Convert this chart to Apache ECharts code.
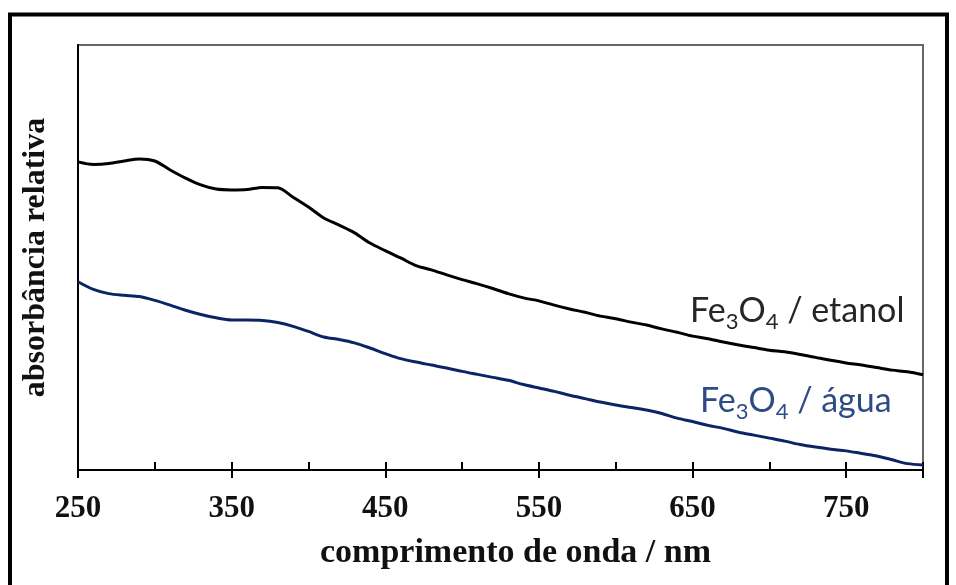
<!DOCTYPE html>
<html>
<head>
<meta charset="utf-8">
<script src="https://cdn.jsdelivr.net/npm/echarts@6/dist/echarts.min.js"></script>
<style>
  html, body { margin: 0; padding: 0; background: #fff; }
  #chart { width: 956px; height: 585px; }
</style>
</head>
<body>
<div id="chart"></div>
<script>
// wavelength grid (nm) and relative absorbance (0..1 of plot height)
const wavelengths = [
  250, 260, 270, 280, 290, 300, 310, 320, 330, 340,
  350, 360, 370, 380, 390, 400, 410, 420, 430, 440,
  450, 460, 470, 480, 490, 500, 510, 520, 530, 540,
  550, 560, 570, 580, 590, 600, 610, 620, 630, 640,
  650, 660, 670, 680, 690, 700, 710, 720, 730, 740,
  750, 760, 770, 780, 790, 800
];

const etanolValues = [
  0.725, 0.719, 0.721, 0.727, 0.732, 0.727, 0.706, 0.687, 0.671, 0.661,
  0.659, 0.660, 0.665, 0.664, 0.642, 0.619, 0.593, 0.576, 0.558, 0.534,
  0.516, 0.499, 0.481, 0.471, 0.459, 0.448, 0.438, 0.427, 0.415, 0.405,
  0.398, 0.388, 0.379, 0.371, 0.362, 0.356, 0.348, 0.341, 0.332, 0.324,
  0.315, 0.309, 0.301, 0.294, 0.288, 0.282, 0.278, 0.272, 0.265, 0.258,
  0.252, 0.247, 0.241, 0.235, 0.231, 0.224
];

const aguaValues = [
  0.443, 0.425, 0.415, 0.411, 0.408, 0.399, 0.388, 0.376, 0.366, 0.358,
  0.353, 0.353, 0.352, 0.347, 0.338, 0.326, 0.313, 0.307, 0.299, 0.287,
  0.274, 0.262, 0.254, 0.247, 0.240, 0.232, 0.225, 0.218, 0.211, 0.201,
  0.193, 0.185, 0.176, 0.168, 0.160, 0.153, 0.147, 0.141, 0.133, 0.122,
  0.114, 0.105, 0.098, 0.089, 0.082, 0.075, 0.068, 0.060, 0.054, 0.049,
  0.045, 0.039, 0.033, 0.024, 0.015, 0.012
];

const labelFont = '"Liberation Serif", "Times New Roman", serif';
const legendFont = 'Lato, "Open Sans", sans-serif';

const chart = echarts.init(document.getElementById("chart"));

function pairs(values) {
  return wavelengths.map((w, i) => [w, values[i]]);
}

function seriesLine(name, values, color) {
  return {
    name: name,
    type: "line",
    data: pairs(values),
    showSymbol: false,
    smooth: 0.3,
    lineStyle: { color: color, width: 3 },
    silent: true,
  };
}

function formulaLabel(rest, color) {
  return {
    text: `{n|Fe}{s|3}{n|O}{s|4}{n|${rest}}`,
    fill: color,
    rich: {
      n: { fontFamily: legendFont, fontSize: 34, fill: color, lineHeight: 40 },
      s: { fontFamily: legendFont, fontSize: 22, fill: color, lineHeight: 40, padding: [22, 0, 0, 0] },
    },
  };
}

chart.setOption({
  animation: false,
  backgroundColor: "#fff",
  grid: {
    left: 78, right: 33, top: 45, bottom: 115,
    show: true, borderColor: "#666", borderWidth: 2,
  },
  xAxis: [
    {
      type: "value", min: 250, max: 800, interval: 50,
      axisLine: { lineStyle: { color: "#000", width: 2 } },
      axisTick: { inside: true, length: 8, lineStyle: { color: "#000", width: 2 } },
      axisLabel: { show: false },
      splitLine: { show: false },
      name: "comprimento de onda / nm",
      nameLocation: "middle",
      nameGap: 66,
      nameTextStyle: {
        fontFamily: labelFont, fontWeight: "bold", fontSize: 34, color: "#111",
        padding: [0, 0, 0, 30],
      },
    },
    {
      type: "value", min: 250, max: 800, interval: 100,
      position: "bottom",
      axisLine: { show: false },
      axisTick: { inside: false, length: 8, lineStyle: { color: "#000", width: 2 } },
      axisLabel: {
        margin: 23, fontFamily: labelFont, fontWeight: "bold", fontSize: 31, color: "#111",
        formatter: (v) => (v >= 800 ? "" : String(v)),
      },
      splitLine: { show: false },
    },
  ],
  yAxis: {
    type: "value", min: 0, max: 1,
    axisLine: { show: true, lineStyle: { color: "#000", width: 2 } },
    axisTick: { show: false },
    axisLabel: { show: false },
    splitLine: { show: false },
    name: "absorbância relativa",
    nameLocation: "middle",
    nameGap: 26,
    nameTextStyle: { fontFamily: labelFont, fontWeight: "bold", fontSize: 32, color: "#111" },
  },
  series: [
    seriesLine("Fe3O4 / etanol", etanolValues, "#000"),
    seriesLine("Fe3O4 / água", aguaValues, "#0b2466"),
  ],
  graphic: [
    {
      type: "rect", silent: true,
      shape: { x: 10, y: 14.5, width: 937, height: 620 },
      style: { fill: "none", stroke: "#000", lineWidth: 4 },
    },
    { type: "text", left: 690, top: 289, silent: true, style: formulaLabel(" / etanol", "#262626") },
    { type: "text", left: 700, top: 379, silent: true, style: formulaLabel(" / água", "#2f4b85") },
  ],
});

window.addEventListener("resize", () => chart.resize());
</script>
</body>
</html>
